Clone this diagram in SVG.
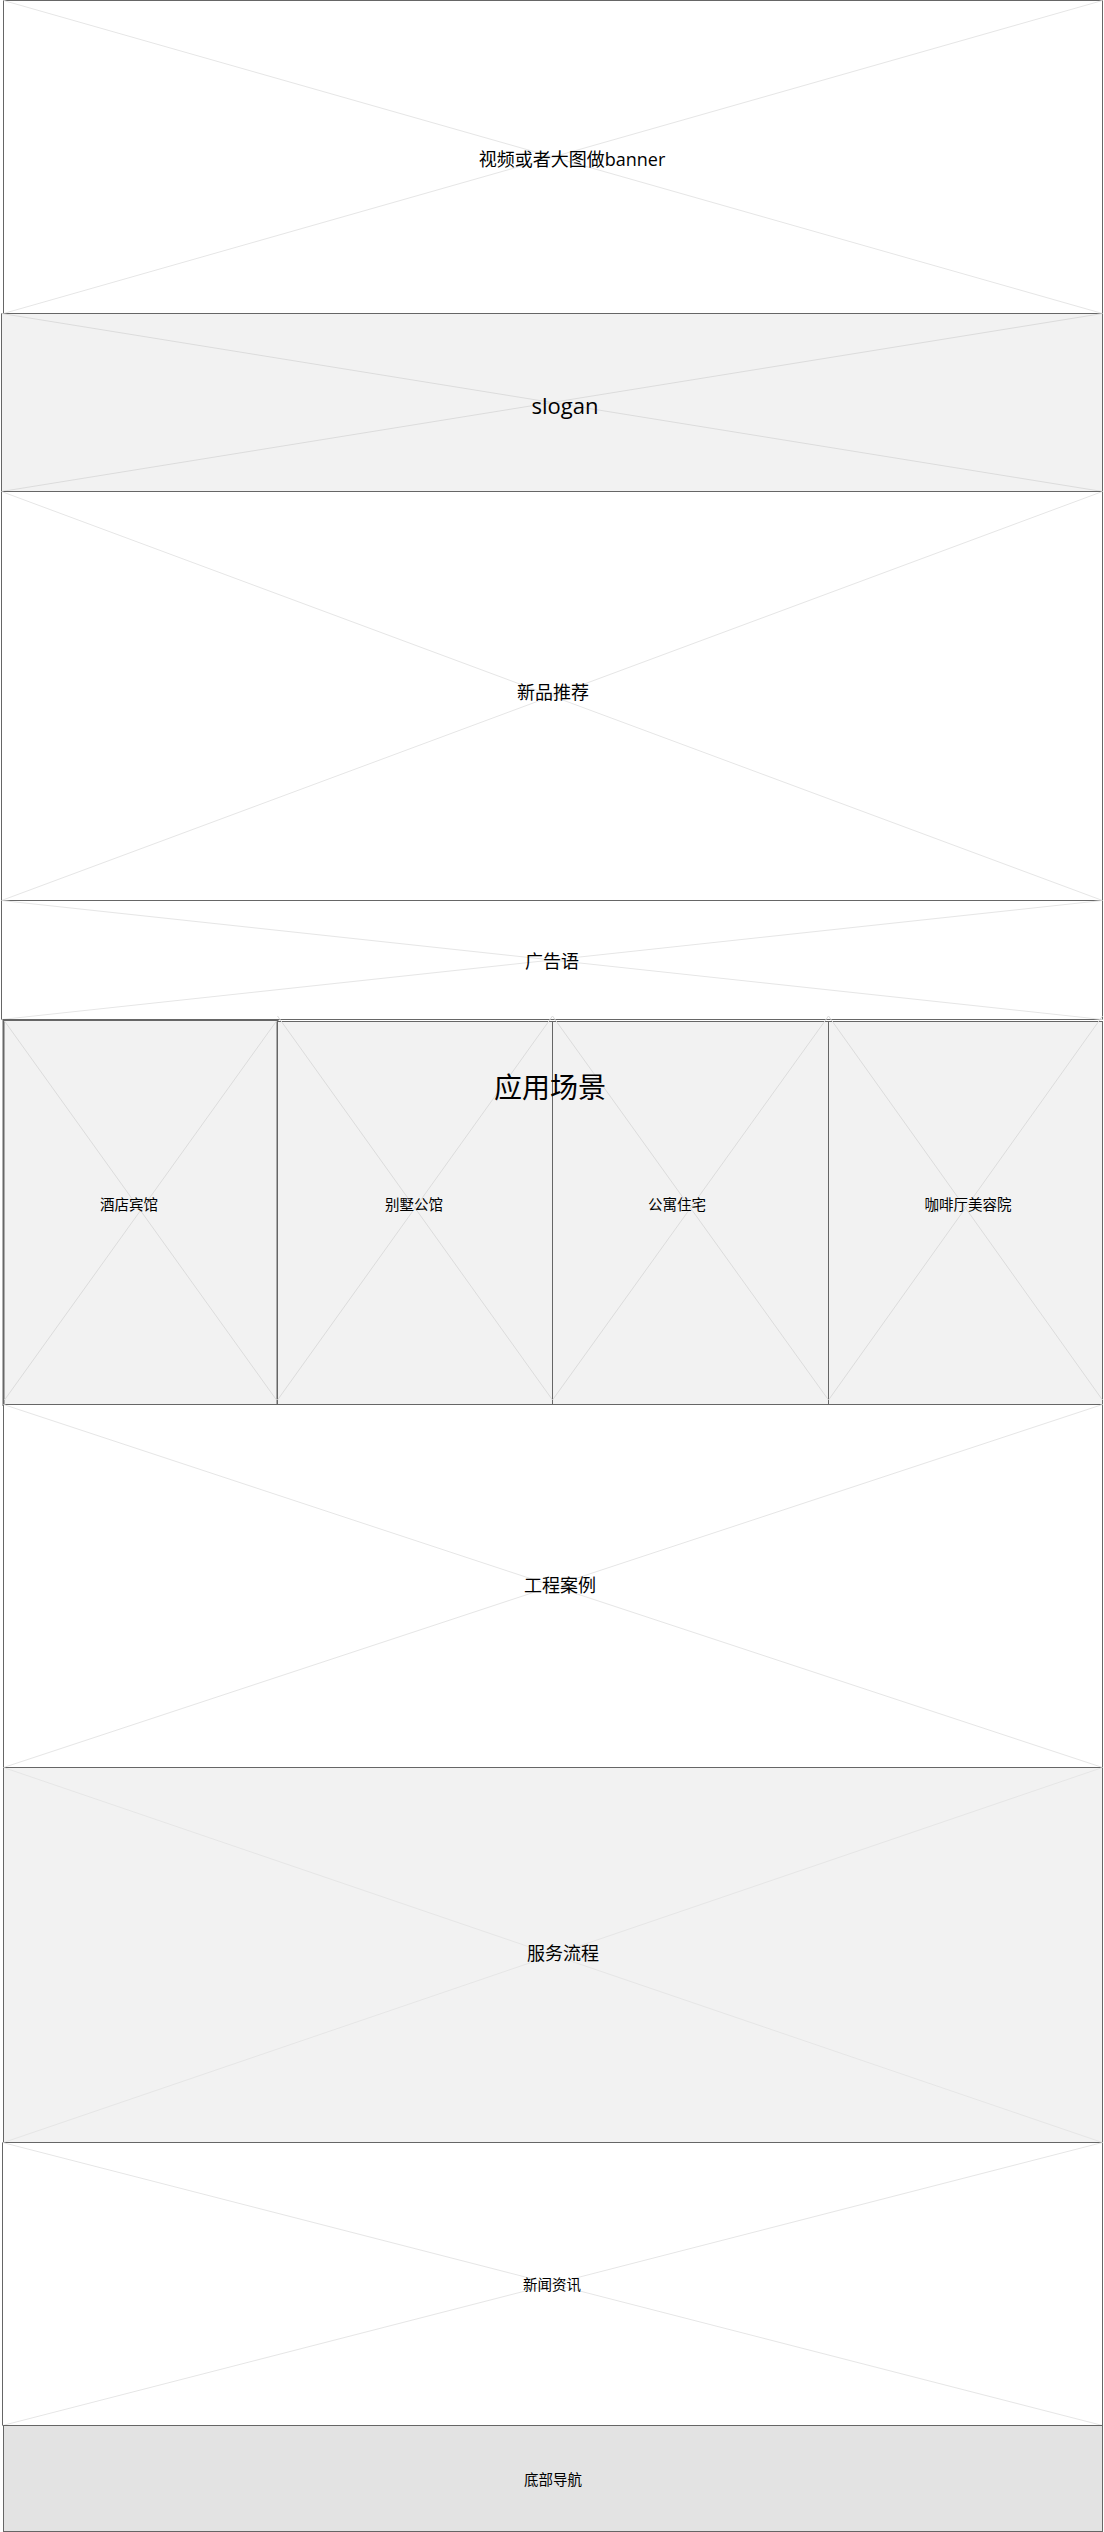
<svg xmlns="http://www.w3.org/2000/svg" width="1104" height="2532" viewBox="0 0 1104 2532">
  <style>
    .box { stroke: #666666; stroke-width: 1; }
    .white { fill: #ffffff; }
    .gray { fill: #f2f2f2; }
    .dark { fill: #e3e3e3; }
    .x { stroke: #e6e6e6; stroke-width: 1; fill: none; }
    .xd { stroke: #dcdcdc; stroke-width: 1; fill: none; }
    .t { font-family: "Segoe UI", "Open Sans", "Noto Sans CJK SC", sans-serif; fill: #000000; text-anchor: middle; dominant-baseline: central; }
    .t18 { font-size: 18px; }
    .t14 { font-size: 14.5px; }
    .t22 { font-size: 22px; }
    .t28 { font-size: 28px; }
  </style>
  <rect x="0" y="0" width="1104" height="2532" fill="#ffffff"/>

  <g id="banner">
    <rect class="box white" x="3.5" y="0.5" width="1099" height="313"/>
    <line class="x" x1="3.5" y1="0.5" x2="1102.5" y2="313.5"/>
    <line class="x" x1="1102.5" y1="0.5" x2="3.5" y2="313.5"/>
    <text class="t t18" x="572" y="159">视频或者大图做banner</text>
  </g>

  <g id="slogan">
    <rect class="box gray" x="1.5" y="313.5" width="1101" height="178"/>
    <line class="xd" x1="1.5" y1="313.5" x2="1102.5" y2="491.5"/>
    <line class="xd" x1="1102.5" y1="313.5" x2="1.5" y2="491.5"/>
    <text class="t t22" x="565" y="405">slogan</text>
  </g>

  <g id="new-products">
    <rect class="box white" x="1.5" y="491.5" width="1101" height="409"/>
    <line class="x" x1="1.5" y1="491.5" x2="1102.5" y2="900.5"/>
    <line class="x" x1="1102.5" y1="491.5" x2="1.5" y2="900.5"/>
    <text class="t t18" x="553" y="692">新品推荐</text>
  </g>

  <g id="slogan-ad">
    <rect class="box white" x="1.5" y="900.5" width="1101" height="119"/>
    <line class="x" x1="1.5" y1="900.5" x2="1102.5" y2="1019.5"/>
    <line class="x" x1="1102.5" y1="900.5" x2="1.5" y2="1019.5"/>
    <text class="t t18" x="552" y="961">广告语</text>
  </g>

  <g id="scene-hotel">
    <rect class="gray" x="3.5" y="1020" width="274" height="385" stroke="#666666" stroke-width="2"/>
    <line class="xd" x1="4.5" y1="1021" x2="276.5" y2="1400"/>
    <line class="xd" x1="276.5" y1="1021" x2="4.5" y2="1400"/>
    <text class="t t14" x="129" y="1204">酒店宾馆</text>
  </g>

  <g id="scene-villa">
    <rect class="box gray" x="277.5" y="1021.5" width="275" height="383.5"/>
    <line class="xd" x1="277.5" y1="1016" x2="552.5" y2="1400"/>
    <line class="xd" x1="552.5" y1="1016" x2="277.5" y2="1400"/>
    <text class="t t14" x="414" y="1204">别墅公馆</text>
  </g>

  <g id="scene-apartment">
    <rect class="box gray" x="552.5" y="1021.5" width="276" height="383.5"/>
    <line class="xd" x1="552.5" y1="1016" x2="828.5" y2="1400"/>
    <line class="xd" x1="828.5" y1="1016" x2="552.5" y2="1400"/>
    <text class="t t14" x="677" y="1204">公寓住宅</text>
  </g>

  <g id="scene-cafe">
    <rect class="box gray" x="828.5" y="1021.5" width="274" height="383.5"/>
    <line class="xd" x1="828.5" y1="1016" x2="1102.5" y2="1400"/>
    <line class="xd" x1="1102.5" y1="1016" x2="828.5" y2="1400"/>
    <text class="t t14" x="968" y="1204">咖啡厅美容院</text>
  </g>

  <g id="scene-title">
    <text class="t t28" x="550" y="1087">应用场景</text>
  </g>

  <g id="cases">
    <rect class="box white" x="3.5" y="1404.5" width="1099" height="363"/>
    <line class="x" x1="3.5" y1="1404.5" x2="1102.5" y2="1767.5"/>
    <line class="x" x1="1102.5" y1="1404.5" x2="3.5" y2="1767.5"/>
    <text class="t t18" x="560" y="1585">工程案例</text>
  </g>

  <g id="service">
    <rect class="box gray" x="3.5" y="1767.5" width="1099" height="375"/>
    <line class="x" x1="3.5" y1="1767.5" x2="1102.5" y2="2142.5"/>
    <line class="x" x1="1102.5" y1="1767.5" x2="3.5" y2="2142.5"/>
    <text class="t t18" x="563" y="1953">服务流程</text>
  </g>

  <g id="news">
    <rect class="box white" x="2.5" y="2142.5" width="1100" height="283"/>
    <line class="x" x1="2.5" y1="2142.5" x2="1102.5" y2="2425.5"/>
    <line class="x" x1="1102.5" y1="2142.5" x2="2.5" y2="2425.5"/>
    <text class="t t14" x="552" y="2284">新闻资讯</text>
  </g>

  <g id="footer">
    <rect class="box dark" x="3.5" y="2425.5" width="1099" height="106"/>
    <text class="t t14" x="553" y="2479">底部导航</text>
  </g>

  <g id="connectors"></g>
</svg>
